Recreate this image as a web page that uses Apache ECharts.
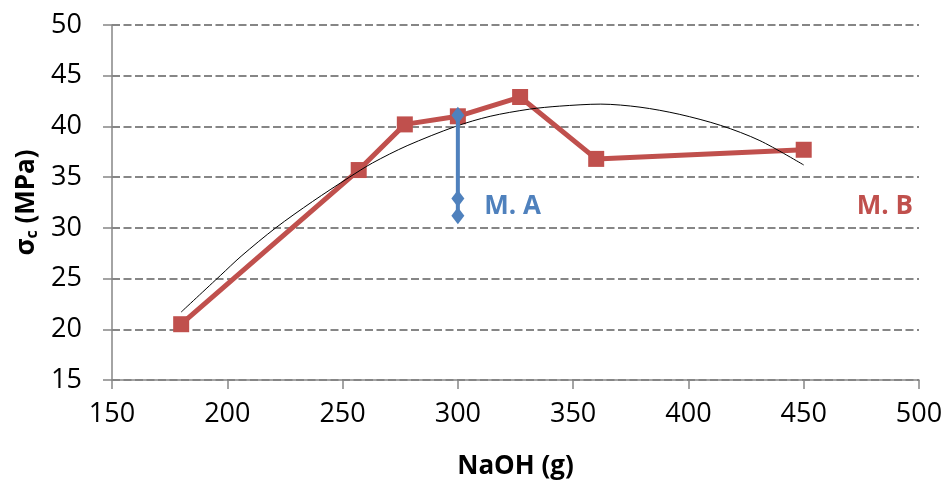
<!DOCTYPE html>
<html>
<head>
<meta charset="utf-8">
<script src="https://cdn.jsdelivr.net/npm/echarts@6/dist/echarts.min.js"></script>
<style>
  html, body { margin: 0; padding: 0; background: #ffffff; }
  #chart { width: 946px; height: 485px; }
</style>
</head>
<body>
<div id="chart"></div>
<script>
// NaOH dosage (g) vs compressive strength σc (MPa)
const xTicks = [150, 200, 250, 300, 350, 400, 450, 500];
const yTicks = [15, 20, 25, 30, 35, 40, 45, 50];

// Mix B
const mbNaOH = [180, 257, 277, 300, 327, 360, 450];
const mbStrength = [20.5, 35.7, 40.2, 41.0, 42.9, 36.8, 37.7];

// Mix A
const maNaOH = [300, 300, 300];
const maStrength = [41.1, 32.9, 31.2];

// Polynomial trendline drawn through Mix B
const trendNaOH = [180, 197, 206, 221, 237, 253, 263, 278, 299, 314, 331, 344, 362, 379, 396, 414, 431, 450];
const trendStrength = [21.7, 25.3, 27.2, 30.0, 32.6, 35.0, 36.4, 38.1, 40.0, 41.0, 41.7, 42.0, 42.2, 41.9, 41.2, 40.1, 38.6, 36.2];

const zip = (xs, ys) => xs.map((x, i) => [x, ys[i]]);

const FONT = '"Open Sans", "Noto Sans", sans-serif';
const RED = '#C0504D';
const BLUE = '#4F81BD';
const GRID = '#868686';

const chart = echarts.init(document.getElementById('chart'), null, { renderer: 'canvas' });

const seriesLabel = (text, color, offset) => ({
  show: true,
  formatter: text,
  position: 'right',
  offset: offset,
  color: color,
  fontFamily: FONT,
  fontWeight: 'bold',
  fontSize: 26
});

const mbData = zip(mbNaOH, mbStrength).map((p, i, arr) =>
  i === arr.length - 1 ? { value: p, label: seriesLabel('M. B', RED, [40, 57]) } : p
);

const maData = zip(maNaOH, maStrength).map((p, i) =>
  i === 1 ? { value: p, label: seriesLabel('M. A', BLUE, [15, 8]) } : p
);

chart.setOption({
  animation: false,
  backgroundColor: '#ffffff',
  grid: { left: 112, right: 27, top: 25, bottom: 102 },
  xAxis: {
    type: 'value',
    min: xTicks[0],
    max: xTicks[xTicks.length - 1],
    interval: 50,
    name: 'NaOH (g)',
    nameLocation: 'middle',
    nameGap: 74,
    nameTextStyle: { fontFamily: FONT, fontWeight: 'bold', fontSize: 26, color: '#000' },
    axisLine: { lineStyle: { color: GRID, width: 1.5 } },
    axisTick: { show: true, length: 9, lineStyle: { color: GRID, width: 1.5 } },
    axisLabel: { fontFamily: FONT, fontSize: 27, color: '#000', margin: 21 },
    splitLine: { show: false }
  },
  yAxis: {
    type: 'value',
    min: yTicks[0],
    max: yTicks[yTicks.length - 1],
    interval: 5,
    name: '{a|σ}{s|c}{a| (MPa)}',
    nameLocation: 'middle',
    nameGap: 68,
    nameRotate: 90,
    nameTextStyle: {
      color: '#000',
      rich: {
        a: { fontFamily: FONT, fontWeight: 'bold', fontSize: 26, color: '#000' },
        s: { fontFamily: FONT, fontWeight: 'bold', fontSize: 16, color: '#000', verticalAlign: 'bottom', padding: [11, 0, 0, 0] }
      }
    },
    axisLine: { show: true, lineStyle: { color: GRID, width: 1.5 } },
    axisTick: { show: true, length: 9, lineStyle: { color: GRID, width: 1.5 } },
    axisLabel: { fontFamily: FONT, fontSize: 27, color: '#000', margin: 30 },
    splitLine: { show: true, lineStyle: { color: GRID, type: [8, 3.5], width: 2 } }
  },
  series: [
    {
      name: 'Trend',
      type: 'line',
      data: zip(trendNaOH, trendStrength),
      smooth: 0.3,
      showSymbol: false,
      symbol: 'none',
      lineStyle: { color: '#000', width: 1 },
      z: 4,
      silent: true
    },
    {
      name: 'M. B',
      type: 'line',
      data: mbData,
      symbol: 'rect',
      symbolSize: 16,
      lineStyle: { color: RED, width: 5 },
      itemStyle: { color: RED },
      z: 3
    },
    {
      name: 'M. A',
      type: 'line',
      data: maData,
      symbol: 'diamond',
      symbolSize: [13, 17],
      lineStyle: { color: BLUE, width: 4 },
      itemStyle: { color: BLUE },
      z: 5
    }
  ]
});
</script>
</body>
</html>
